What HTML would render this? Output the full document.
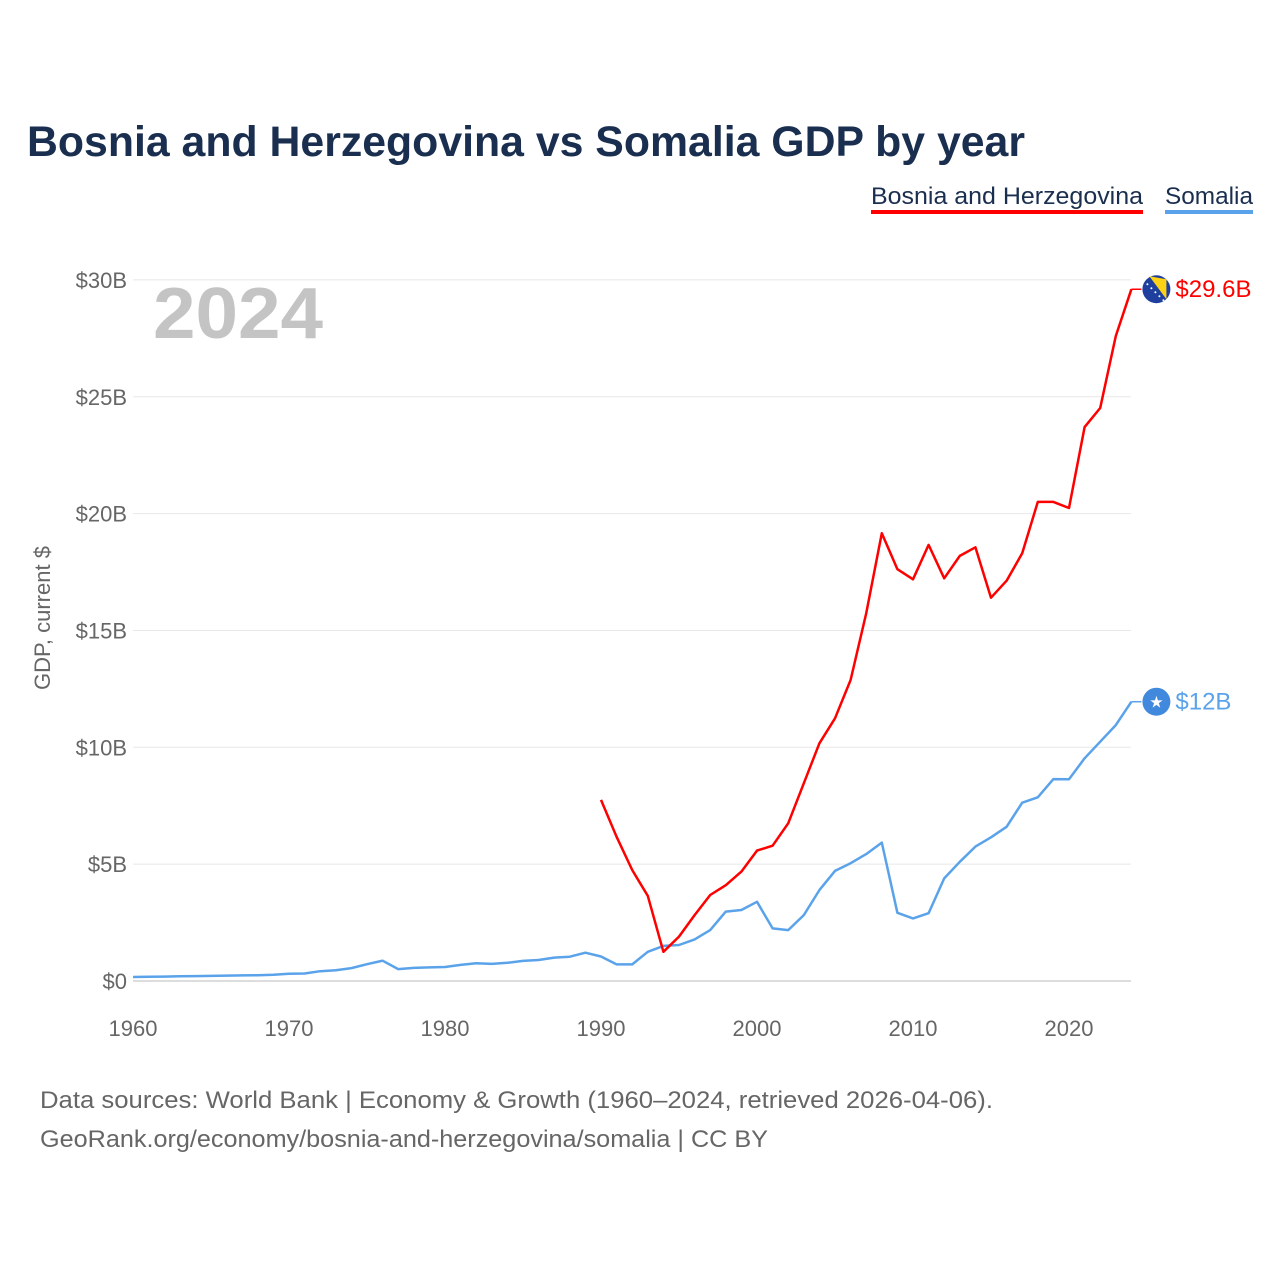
<!DOCTYPE html>
<html><head><meta charset="utf-8"><style>
body{margin:0;background:#fff;font-family:"Liberation Sans",sans-serif;}
svg text{font-family:"Liberation Sans",sans-serif;}
</style></head><body>
<svg width="1280" height="1280" viewBox="0 0 1280 1280" xmlns="http://www.w3.org/2000/svg" id="chart">
<text x="27" y="156" font-size="43" font-weight="bold" fill="#1a2e4f" textLength="998" lengthAdjust="spacingAndGlyphs">Bosnia and Herzegovina vs Somalia GDP by year</text>
<g><text x="871" y="204" font-size="24" fill="#1a2e4f" textLength="272" lengthAdjust="spacingAndGlyphs">Bosnia and Herzegovina</text><rect x="871" y="210" width="272" height="4" fill="#ff0000"/></g>
<g><text x="1165" y="204" font-size="24" fill="#1a2e4f" textLength="88" lengthAdjust="spacingAndGlyphs">Somalia</text><rect x="1165" y="210" width="88" height="4" fill="#5aa3ea"/></g>
<g id="grid"></g>
<g id="yticks"></g>
<g id="xticks"></g>
<text x="153" y="338" font-size="72" font-weight="bold" fill="#c4c4c4" textLength="170" lengthAdjust="spacingAndGlyphs">2024</text>
<text transform="translate(50,618) rotate(-90)" text-anchor="middle" font-size="22" fill="#666">GDP, current $</text>
<g id="series"></g>
<text x="40" y="1108" font-size="24" fill="#666" textLength="953" lengthAdjust="spacingAndGlyphs">Data sources: World Bank | Economy &amp; Growth (1960–2024, retrieved 2026-04-06).</text>
<text x="40" y="1147" font-size="24" fill="#666" textLength="728" lengthAdjust="spacingAndGlyphs">GeoRank.org/economy/bosnia-and-herzegovina/somalia | CC BY</text>
</svg>
<script>
const yearsStart = 1960;
const somaliaValues = [0.17,0.18,0.19,0.2,0.21,0.22,0.23,0.24,0.25,0.27,0.31,0.32,0.42,0.46,0.55,0.72,0.87,0.51,0.56,0.58,0.6,0.69,0.76,0.73,0.78,0.86,0.9,1.0,1.04,1.21,1.05,0.71,0.71,1.25,1.5,1.54,1.78,2.18,2.97,3.04,3.39,2.25,2.18,2.82,3.89,4.71,5.04,5.43,5.92,2.92,2.68,2.9,4.39,5.1,5.75,6.15,6.6,7.63,7.86,8.64,8.63,9.53,10.24,10.95,11.95];
const bosniaStart = 1990;
const bosniaValues = [7.75,6.17,4.75,3.64,1.25,1.9,2.82,3.68,4.1,4.68,5.58,5.79,6.75,8.46,10.17,11.24,12.88,15.73,19.16,17.62,17.19,18.66,17.23,18.19,18.56,16.4,17.13,18.3,20.5,20.5,20.24,23.7,24.52,27.6,29.6];
const yTicks = [0,5,10,15,20,25,30];
const yTickLabels = ["$0","$5B","$10B","$15B","$20B","$25B","$30B"];
const xTicks = [1960,1970,1980,1990,2000,2010,2020];
const bosniaLabel = "$29.6B";
const somaliaLabel = "$12B";

const NS="http://www.w3.org/2000/svg";
const X = yr => 133 + (yr-1960)*15.6;
const Y = v => 981 - v*23.37;
function mk(tag, attrs, parent, text){const e=document.createElementNS(NS,tag);for(const k in attrs)e.setAttribute(k,attrs[k]);if(text!==undefined)e.textContent=text;parent.appendChild(e);return e;}
const grid=document.getElementById('grid'), yt=document.getElementById('yticks'), xt=document.getElementById('xticks'), ser=document.getElementById('series');
yTicks.forEach((v,i)=>{
  const l=mk('line',{x1:133,x2:1131,y1:Y(v),y2:Y(v),stroke:v===0?'#ddd':'#e8e8e8','stroke-width':v===0?2:1},grid);
  
  
  const t=mk('text',{x:127,y:Y(v)+8,'text-anchor':'end','font-size':22,fill:'#666'},yt,yTickLabels[i]);
  
  
});
xTicks.forEach(yr=>{
  const t=mk('text',{x:X(yr),y:1036,'text-anchor':'middle','font-size':22,fill:'#666'},xt,String(yr));
  
  
});
function line(start, vals, color, name){
  const pts=vals.map((v,i)=>X(start+i).toFixed(1)+','+Y(v).toFixed(1)).join(' ');
  const p=mk('polyline',{points:pts,fill:'none',stroke:color,'stroke-width':2.5,'stroke-linejoin':'round'},ser);
  
  
  return p;
}
line(yearsStart, somaliaValues, '#5aa3ea', 'somalia-line');
line(bosniaStart, bosniaValues, '#ff0000', 'bosnia-line');
function endMarker(start, vals, color, label, name, flag){
  const lx=X(start+vals.length-1), ly=Y(vals[vals.length-1]);
  mk('line',{x1:lx,y1:ly,x2:lx+10,y2:ly,stroke:color,'stroke-width':1.5},ser);
  const g=mk('g',{},ser);
  
  
  const cx=lx+25;
  if(flag==='ba'){
    mk('circle',{cx:cx,cy:ly,r:14,fill:'#1e3f9e'},g);
    mk('path',{d:`M${cx-7} ${ly-13} L${cx+10} ${ly-10} L${cx+10} ${ly+10} Z`,fill:'#fcd116'},g);
    for(let k=0;k<5;k++) mk('circle',{cx:cx-9+k*4,cy:ly-5+k*4,r:1,fill:'#fff'},g);
  } else {
    mk('circle',{cx:cx,cy:ly,r:14,fill:'#4189dd'},g);
    mk('text',{x:cx,y:ly+6,'text-anchor':'middle','font-size':16,fill:'#fff'},g,'★');
  }
  const t=mk('text',{x:cx+19,y:ly+8,'font-size':24,fill:color},ser,label);
  
  
}
endMarker(bosniaStart,bosniaValues,'#ff0000',bosniaLabel,'bosnia','ba');
endMarker(yearsStart,somaliaValues,'#5aa3ea',somaliaLabel,'somalia','so');
</script>
</body></html>
